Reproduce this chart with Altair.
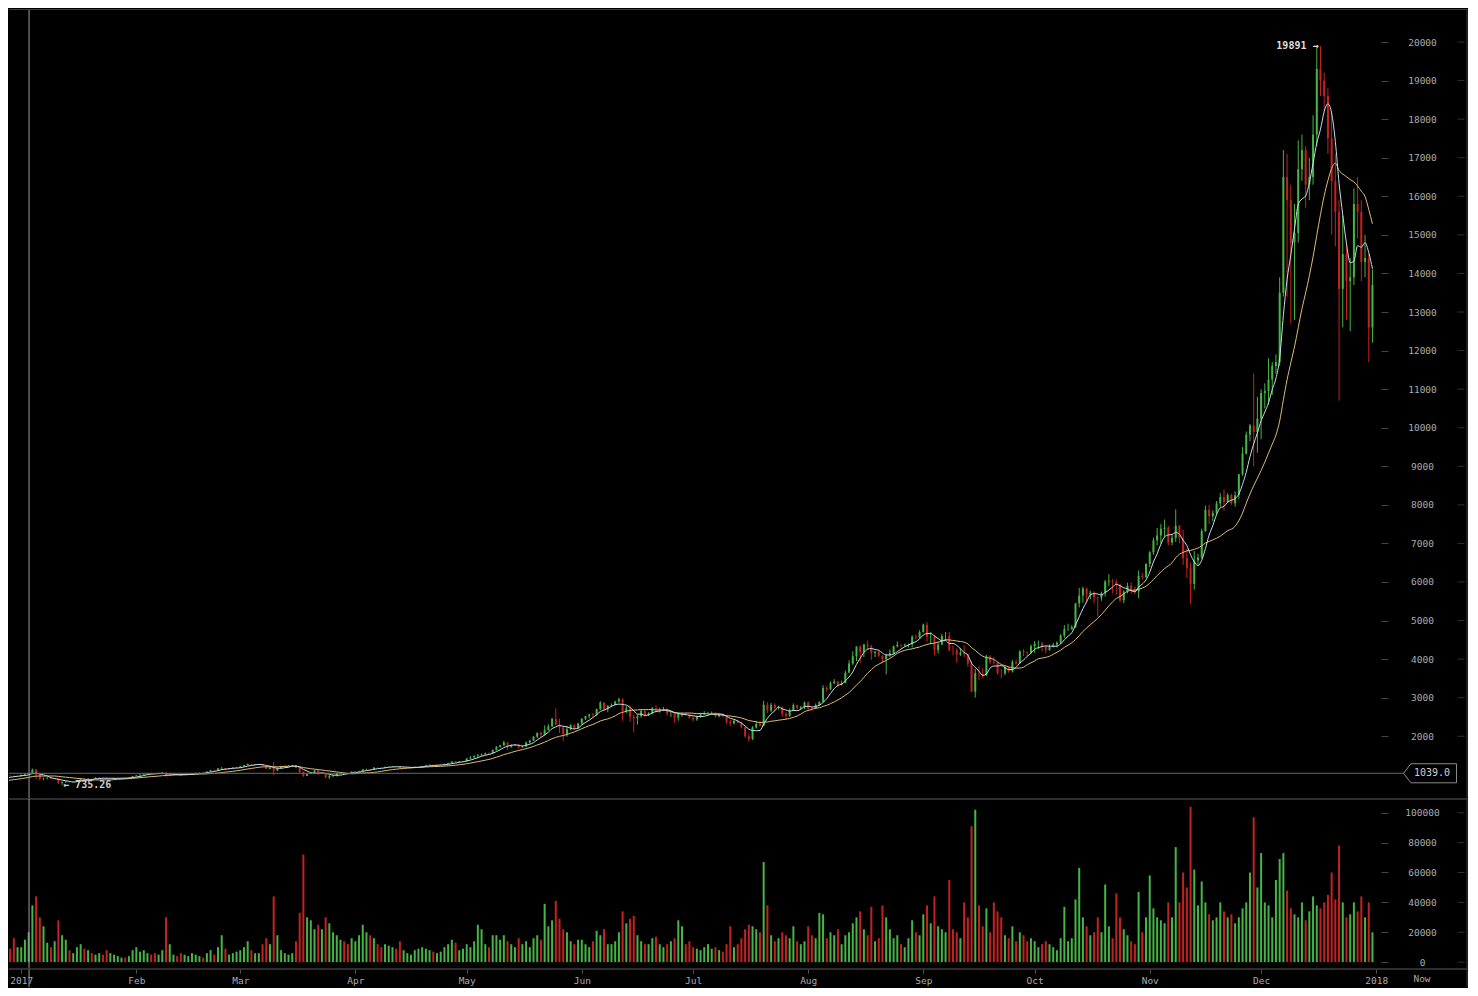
import altair as alt
import pandas as pd
import numpy as np

# ---------------- data (daily, Bitfinex BTC/USD, 2017) ----------------
# closes of Dec 14-27 2016, only used to warm up the moving averages
warmup_close = [780, 777, 785, 790, 790, 790, 800, 834, 864, 921, 890, 891, 907, 933]

# drawn candles start on Dec 28 2016 (day -4, Jan 1 2017 = day 0)
close = [
    975, 973, 961, 963,
    998, 1021, 1043, 1132, 1010, 895, 905, 910, 900, 905, 790, 808, 822, 818, 820, 830, 900, 865, 895, 893, 920, 922, 920, 893, 895, 915, 918, 920, 913, 920, 965,
    985, 1005, 1025, 1040, 1030, 1020, 1048, 1050, 980, 995, 1005, 1000, 995, 1010, 1010, 1032, 1045, 1052, 1050, 1085, 1120, 1118, 1165, 1175, 1150, 1170, 1185, 1190,
    1220, 1250, 1280, 1262, 1270, 1276, 1232, 1150, 1190, 1105, 1175, 1220, 1232, 1240, 1250, 1175, 1070, 970, 1020, 1045, 1115, 1035, 1040, 935, 965, 965, 1045, 1045, 1040, 1035, 1080,
    1086, 1100, 1143, 1143, 1133, 1190, 1187, 1184, 1205, 1210, 1223, 1218, 1180, 1185, 1187, 1187, 1209, 1209, 1228, 1249, 1259, 1251, 1251, 1257, 1283, 1309, 1346, 1331, 1347, 1348,
    1422, 1452, 1491, 1507, 1528, 1555, 1553, 1640, 1727, 1762, 1839, 1725, 1770, 1781, 1716, 1731, 1838, 1889, 1988, 2084, 2042, 2157, 2255, 2446, 2305, 2225, 2050, 2184, 2287, 2200, 2330,
    2452, 2520, 2565, 2550, 2700, 2870, 2700, 2793, 2811, 2900, 2958, 2650, 2717, 2506, 2464, 2519, 2655, 2548, 2589, 2721, 2689, 2706, 2710, 2590, 2590, 2479, 2589, 2589, 2561, 2480,
    2434, 2506, 2565, 2601, 2601, 2608, 2518, 2572, 2518, 2373, 2337, 2398, 2357, 2233, 1998, 1929, 2228, 2318, 2273, 2817, 2667, 2810, 2730, 2755, 2576, 2529, 2671, 2809, 2726, 2757, 2875,
    2718, 2710, 2804, 2895, 3252, 3213, 3378, 3419, 3342, 3381, 3650, 3884, 4073, 4325, 4181, 4376, 4331, 4160, 4193, 4087, 4001, 4100, 4151, 4334, 4371, 4352, 4382, 4382, 4579, 4565, 4703,
    4892, 4578, 4582, 4236, 4376, 4597, 4599, 4228, 4226, 4122, 4161, 4130, 3882, 3154, 3637, 3625, 3582, 4065, 3924, 3905, 3631, 3630, 3792, 3682, 3926, 3892, 4200, 4174, 4163, 4338,
    4403, 4409, 4317, 4229, 4328, 4370, 4426, 4610, 4772, 4781, 4826, 5447, 5647, 5831, 5678, 5725, 5605, 5590, 5708, 6011, 6031, 6008, 5930, 5526, 5750, 5904, 5780, 5753, 6153, 6130, 6468,
    6767, 7078, 7207, 7379, 7407, 7022, 7144, 7459, 7143, 6618, 6357, 5950, 6559, 6635, 7315, 7871, 7708, 7790, 8036, 8200, 8071, 8253, 8038, 8253, 8791, 9330, 9818, 10058, 9888, 10233,
    10900, 10950, 11250, 11600, 11700, 13500, 16500, 15900, 14800, 15050, 16700, 17200, 16300, 16500, 17600, 19300, 19000, 18600, 17500, 16400, 15600, 13600, 14500, 13800, 13900, 15800, 15600, 14300, 14400, 12600, 13700,
]
high = [
    982, 990, 975, 972,
    1002, 1032, 1048, 1160, 1150, 1020, 925, 940, 918, 915, 912, 830, 835, 836, 830, 836, 908, 912, 912, 900, 935, 936, 932, 926, 902, 920, 926, 926, 922, 926, 972,
    990, 1012, 1032, 1048, 1045, 1032, 1056, 1075, 1062, 1000, 1012, 1010, 1003, 1015, 1016, 1038, 1056, 1060, 1058, 1090, 1126, 1132, 1172, 1202, 1178, 1176, 1192, 1200,
    1225, 1260, 1292, 1285, 1276, 1285, 1280, 1240, 1200, 1330, 1186, 1230, 1240, 1252, 1260, 1256, 1180, 1085, 1035, 1056, 1122, 1125, 1062, 1045, 1005, 1010, 1052, 1070, 1060, 1056, 1086,
    1092, 1106, 1150, 1160, 1145, 1195, 1194, 1195, 1210, 1215, 1228, 1226, 1220, 1190, 1195, 1193, 1212, 1215, 1232, 1256, 1266, 1262, 1258, 1262, 1288, 1312, 1350, 1350, 1352, 1354,
    1430, 1480, 1500, 1540, 1550, 1575, 1580, 1660, 1745, 1780, 1880, 1840, 1790, 1800, 1790, 1760, 1860, 1900, 2000, 2100, 2120, 2280, 2310, 2480, 2720, 2450, 2280, 2270, 2310, 2310, 2350,
    2470, 2530, 2580, 2600, 2720, 2910, 2880, 2800, 2850, 2920, 3000, 2980, 2780, 2800, 2560, 2560, 2690, 2680, 2620, 2760, 2800, 2740, 2760, 2720, 2640, 2620, 2600, 2620, 2620, 2580,
    2520, 2530, 2610, 2650, 2630, 2640, 2620, 2580, 2590, 2530, 2420, 2430, 2430, 2380, 2240, 2060, 2260, 2400, 2400, 2920, 2880, 2860, 2850, 2790, 2770, 2620, 2720, 2850, 2820, 2780, 2900,
    2900, 2760, 2850, 2900, 3320, 3300, 3420, 3480, 3420, 3440, 3700, 3970, 4200, 4330, 4360, 4400, 4480, 4370, 4200, 4210, 4100, 4140, 4250, 4350, 4460, 4380, 4400, 4400, 4620, 4640, 4750,
    4920, 4960, 4700, 4620, 4450, 4650, 4700, 4700, 4340, 4280, 4290, 4360, 4140, 3950, 3750, 3820, 3760, 4110, 4100, 4050, 3920, 3750, 3820, 3800, 3980, 3980, 4230, 4260, 4200, 4380,
    4470, 4480, 4450, 4350, 4380, 4420, 4460, 4650, 4880, 4920, 4880, 5450, 5850, 5880, 5850, 5780, 5760, 5620, 5750, 6050, 6200, 6080, 6070, 5950, 5780, 5980, 5990, 5880, 6300, 6230, 6480,
    6800, 7150, 7400, 7500, 7620, 7450, 7220, 7880, 7480, 7350, 6870, 6500, 6800, 6730, 7380, 7980, 8000, 7860, 8100, 8300, 8400, 8300, 8290, 8350, 8800, 9500, 9900, 10100, 11400, 10800,
    11000, 11150, 11800, 11700, 11900, 13900, 17200, 17100, 16300, 15800, 17450, 17600, 17300, 17000, 18100, 19850, 19891, 19200, 18800, 18200, 17100, 15900, 15500, 14800, 14400, 16200, 16500, 15900, 15000, 14500, 14100,
]
low = [
    930, 962, 925, 948,
    958, 994, 1012, 1035, 880, 850, 860, 880, 884, 880, 760, 735.26, 795, 800, 805, 815, 826, 845, 858, 880, 890, 910, 905, 885, 885, 890, 908, 910, 905, 910, 918,
    960, 980, 1000, 1020, 1014, 1010, 1016, 1040, 948, 965, 990, 990, 980, 990, 1000, 1008, 1030, 1042, 1040, 1045, 1080, 1100, 1115, 1120, 1110, 1140, 1165, 1170,
    1185, 1215, 1245, 1240, 1250, 1260, 1210, 1140, 1145, 985, 1100, 1170, 1220, 1225, 1235, 1165, 1050, 945, 965, 1015, 1040, 1000, 1020, 905, 890, 935, 960, 1015, 1020, 1020, 1030,
    1070, 1080, 1098, 1125, 1112, 1132, 1175, 1172, 1180, 1200, 1205, 1210, 1165, 1172, 1180, 1178, 1183, 1200, 1205, 1226, 1240, 1235, 1240, 1242, 1250, 1280, 1300, 1320, 1330, 1335,
    1340, 1400, 1440, 1440, 1490, 1515, 1535, 1550, 1630, 1700, 1750, 1650, 1700, 1750, 1680, 1700, 1720, 1810, 1880, 1950, 1980, 2020, 2150, 2240, 2280, 2080, 1870, 1990, 2150, 2180, 2200,
    2300, 2420, 2460, 2500, 2530, 2680, 2660, 2620, 2760, 2800, 2870, 2400, 2600, 2370, 2100, 2300, 2480, 2500, 2520, 2570, 2620, 2610, 2650, 2530, 2500, 2350, 2400, 2500, 2530, 2450,
    2380, 2400, 2480, 2550, 2560, 2560, 2480, 2490, 2500, 2320, 2260, 2300, 2320, 2200, 1960, 1850, 1900, 2200, 2250, 2260, 2600, 2620, 2660, 2690, 2500, 2450, 2500, 2650, 2700, 2690, 2700,
    2650, 2650, 2700, 2780, 2880, 3150, 3200, 3350, 3260, 3320, 3370, 3630, 3850, 3950, 3900, 4050, 4250, 3980, 4050, 4050, 3900, 3600, 4050, 4120, 4300, 4300, 4330, 4300, 4300, 4500, 4540,
    4690, 4450, 4380, 4100, 4150, 4370, 4480, 4200, 4100, 3900, 4080, 4050, 3800, 3140, 3000, 3450, 3500, 3560, 3870, 3860, 3600, 3500, 3580, 3650, 3650, 3850, 3880, 4080, 4080, 4140,
    4160, 4260, 4200, 4150, 4220, 4300, 4300, 4390, 4550, 4730, 4760, 4810, 5340, 5460, 5470, 5550, 5450, 5100, 5510, 5620, 5900, 5710, 5670, 5470, 5450, 5700, 5690, 5680, 5580, 6080, 6100,
    6380, 6700, 6950, 7000, 7150, 6950, 6950, 7040, 7000, 6440, 6100, 5420, 5800, 6450, 6600, 7300, 7500, 7570, 7750, 7950, 7850, 8050, 8000, 7950, 8150, 8750, 9300, 9650, 9000, 9350,
    9700, 10500, 10600, 10850, 11400, 11600, 13400, 13400, 12700, 12800, 14800, 16400, 15700, 15900, 16300, 17300, 18600, 18200, 17100, 15000, 14700, 10700, 12600, 12800, 12500, 13700, 14900, 13800, 13900, 11700, 12200,
]
# volume in thousands
volume_k = [
    14, 9, 16, 10,
    10, 15, 20, 38, 44, 30, 24, 13, 10, 14, 28, 18, 15, 8, 6, 10, 12, 9, 8, 6, 5, 6, 5, 8, 6, 5, 4, 3, 3, 4, 8,
    10, 7, 8, 6, 5, 6, 5, 8, 30, 12, 5, 4, 6, 5, 4, 6, 5, 4, 3, 6, 8, 5, 10, 18, 9, 5, 6, 7,
    8, 10, 14, 8, 6, 6, 12, 16, 12, 44, 18, 8, 6, 5, 6, 14, 33, 72, 30, 28, 22, 25, 22, 30, 26, 20, 18, 15, 14, 12, 16,
    14, 18, 25, 20, 18, 16, 12, 10, 12, 11, 10, 9, 14, 8, 6, 5, 8, 9, 10, 9, 8, 7, 6, 7, 10, 12, 15, 13, 8, 9,
    12, 10, 14, 25, 22, 12, 10, 18, 18, 15, 18, 14, 12, 10, 16, 12, 14, 10, 16, 18, 15, 39, 24, 28, 41, 29, 22, 20, 14, 12, 15,
    15, 12, 10, 14, 21, 18, 22, 12, 12, 14, 20, 34, 26, 29, 31, 18, 14, 12, 12, 16, 17, 12, 10, 12, 14, 16, 28, 24, 12, 14,
    10, 9, 8, 10, 12, 9, 10, 8, 7, 12, 24, 10, 12, 16, 22, 25, 24, 22, 20, 67, 38, 18, 14, 16, 20, 18, 16, 24, 14, 12, 14,
    24, 18, 16, 33, 32, 16, 20, 18, 22, 12, 18, 20, 26, 30, 34, 22, 18, 37, 14, 16, 38, 30, 22, 16, 18, 12, 10, 16, 28, 20, 18,
    32, 38, 26, 44, 24, 22, 20, 55, 22, 20, 16, 40, 30, 91, 102, 38, 24, 36, 20, 40, 34, 30, 18, 16, 24, 14, 20, 18, 14, 16,
    14, 10, 12, 14, 12, 10, 8, 16, 37, 14, 16, 42, 63, 30, 24, 18, 20, 30, 20, 52, 24, 16, 46, 30, 22, 18, 14, 12, 47, 20, 30,
    58, 36, 30, 28, 26, 40, 30, 77, 40, 60, 50, 104, 62, 38, 54, 40, 32, 28, 30, 40, 34, 30, 32, 26, 30, 36, 40, 60, 97, 50,
    73, 40, 38, 30, 55, 69, 73, 48, 36, 32, 30, 40, 28, 34, 44, 38, 36, 40, 45, 60, 42, 78, 40, 30, 32, 40, 34, 44, 30, 40, 20,
]

MONTH_DAYS = [0, 31, 59, 90, 120, 151, 181, 212, 243, 273, 304, 334, 365]
MONTH_LABELS = ["2017", "Feb", "Mar", "Apr", "May", "Jun", "Jul", "Aug", "Sep", "Oct", "Nov", "Dec", "2018"]
PRICE_TICKS = list(range(2000, 20001, 1000))
VOL_TICKS = [0, 20000, 40000, 60000, 80000, 100000]
CROSS_DAY = 2.1
CROSS_PRICE = 1039.0
FIRST_DAY = -4

# ---------------- style ----------------
MONO = "DejaVu Sans Mono"
GREEN = "#45b545"
RED = "#c42222"
MA_FAST = "#c6dcee"
MA_SLOW = "#e0bb78"
FRAME = "#3c3c3c"
LABEL = "#ababab"
W = 1372
H_PRICE = 790
H_VOL = 170
AXW = 86

# ---------------- table ----------------
n = len(close)
assert len(high) == n and len(low) == n and len(volume_k) == n, (n, len(high), len(low), len(volume_k))
allc = pd.Series(warmup_close + close, dtype=float)
k = len(warmup_close)
df = pd.DataFrame({
    "day": np.arange(FIRST_DAY, FIRST_DAY + n),
    "open": [warmup_close[-1]] + close[:-1],
    "close": close,
    "high": high,
    "low": low,
    "vol": [v * 1000 for v in volume_k],
    "ma_fast": allc.rolling(5, min_periods=1).mean().to_numpy()[k:],
    "ma_slow": allc.rolling(15, min_periods=1).mean().to_numpy()[k:],
})
df["dir"] = np.where(df["close"] >= df["open"], "up", "down")

hi = df.loc[df["high"].idxmax()]
lo = df.loc[df["low"].idxmin()]
ann_hi = pd.DataFrame({"day": [hi["day"]], "p": [hi["high"]], "t": [f"{hi['high']:g} \u2192"]})
ann_lo = pd.DataFrame({"day": [lo["day"]], "p": [lo["low"]], "t": [f"\u2190 {lo['low']:g}"]})
one = pd.DataFrame({"a": [0]})
cross_x = pd.DataFrame({"day": [CROSS_DAY]})
cross_y = pd.DataFrame({"p": [CROSS_PRICE]})

xscale = alt.Scale(domain=[-3.3, 366.3], nice=False, zero=False)
pscale = alt.Scale(domain=[372, 20857], nice=False, zero=False)
vscale = alt.Scale(domain=[-4600, 109200], nice=False, zero=False)
color = alt.Color("dir:N", scale=alt.Scale(domain=["up", "down"], range=[GREEN, RED]), legend=None)

price_axis = alt.Axis(orient="right", values=PRICE_TICKS, format="d", tickSize=7, tickColor="#444",
                      labelColor=LABEL, labelFont=MONO, labelFontSize=9.5, labelAlign="center",
                      labelPadding=34, domain=False, grid=False, labelFlush=False, labelOverlap=False)
vol_axis = alt.Axis(orient="right", values=VOL_TICKS, format="d", tickSize=7, tickColor="#444",
                    labelColor=LABEL, labelFont=MONO, labelFontSize=9.5, labelAlign="center",
                    labelPadding=34, domain=False, grid=False, labelFlush=False, labelOverlap=False)
label_expr = "''"
for d, lab in reversed(list(zip(MONTH_DAYS, MONTH_LABELS))):
    label_expr = f"datum.value == {d} ? '{lab}' : ({label_expr})"
x_axis = alt.Axis(orient="bottom", values=MONTH_DAYS, labelExpr=label_expr, tickSize=4, tickColor="#555",
                  labelColor=LABEL, labelFont=MONO, labelFontSize=9.5, labelPadding=2, domain=False,
                  grid=False, labelFlush=False, labelOverlap=False)


def PY(field, **kw):
    return alt.Y(field, scale=pscale, axis=price_axis, title=None, **kw)


def VY(field):
    return alt.Y(field, scale=vscale, axis=vol_axis, title=None)


# ---------------- price pane ----------------
X = alt.X("day:Q", scale=xscale, axis=None)

wick = alt.Chart(df).mark_rule(strokeWidth=1, clip=True).encode(
    x=X, y=PY("low:Q"), y2="high:Q", color=color)
body = alt.Chart(df).mark_rule(strokeWidth=2, clip=True).encode(
    x=X, y=PY("open:Q"), y2="close:Q", color=color)
ma_s = alt.Chart(df).mark_line(strokeWidth=1, color=MA_SLOW, clip=True, interpolate="monotone").encode(x=X, y=PY("ma_slow:Q"))
ma_f = alt.Chart(df).mark_line(strokeWidth=1, color=MA_FAST, clip=True, interpolate="monotone").encode(x=X, y=PY("ma_fast:Q"))
vline_p = alt.Chart(cross_x).mark_rule(color="#9a9a9a", strokeWidth=1).encode(x=X, y=alt.value(0), y2=alt.value(H_PRICE))
hline = alt.Chart(cross_y).mark_rule(color="#6a6a6a", strokeWidth=1, clip=False).encode(
    y=PY("p:Q"), x=alt.value(0), x2=alt.value(W + 24))
box = alt.Chart(cross_y).mark_point(shape="M-1,0L-0.72,-0.36L1,-0.36L1,0.36L-0.72,0.36Z", size=2809,
                                    filled=True, fill="#000", stroke="#8a8a8a", strokeWidth=1, opacity=1,
                                    clip=False).encode(y=PY("p:Q"), x=alt.value(W + 49))
box_t = alt.Chart(cross_y).mark_text(font=MONO, fontSize=10, color="#cfcfcf", align="center", baseline="middle",
                                     clip=False).encode(y=PY("p:Q"), x=alt.value(W + 51), text=alt.Text("p:Q", format=".1f"))
t_hi = alt.Chart(ann_hi).mark_text(font=MONO, fontSize=10, fontWeight="bold", color="#dddddd", align="right",
                                   baseline="middle", dx=-2).encode(x=X, y=PY("p:Q"), text="t:N")
t_lo = alt.Chart(ann_lo).mark_text(font=MONO, fontSize=10, fontWeight="bold", color="#cccccc", align="left",
                                   baseline="middle", dx=1, dy=0).encode(x=X, y=PY("p:Q"), text="t:N")
rdash_p = alt.Chart(pd.DataFrame({"t": PRICE_TICKS})).mark_tick(color="#444", orient="horizontal", size=7,
                                                                thickness=1, clip=False).encode(
    y=PY("t:Q"), x=alt.value(W + 80))
top_line = alt.Chart(one).mark_rule(color=FRAME, clip=False).encode(x=alt.value(0), x2=alt.value(W + AXW), y=alt.value(0.5))
sep_line = alt.Chart(one).mark_rule(color=FRAME, strokeWidth=1.5, clip=False).encode(x=alt.value(0), x2=alt.value(W + AXW), y=alt.value(H_PRICE))
rb_p = alt.Chart(one).mark_rule(color=FRAME, clip=False).encode(x=alt.value(W + AXW), y=alt.value(0), y2=alt.value(H_PRICE))

price = alt.layer(wick, body, ma_s, ma_f, vline_p, hline, box, box_t, t_hi, t_lo, rdash_p,
                  top_line, sep_line, rb_p).properties(width=W, height=H_PRICE)

# ---------------- volume pane ----------------
XV = alt.X("day:Q", scale=xscale, axis=x_axis, title=None)
vbars = alt.Chart(df).mark_rule(strokeWidth=2, clip=True).encode(
    x=XV, y=VY("vol:Q"), y2=alt.datum(0), color=color)
vline_v = alt.Chart(cross_x).mark_rule(color="#9a9a9a", strokeWidth=1, clip=False).encode(
    x=XV, y=alt.value(0), y2=alt.value(H_VOL + 18))
rdash_v = alt.Chart(pd.DataFrame({"t": VOL_TICKS})).mark_tick(color="#444", orient="horizontal", size=7,
                                                              thickness=1, clip=False).encode(
    y=VY("t:Q"), x=alt.value(W + 80))
bot_line = alt.Chart(one).mark_rule(color=FRAME, strokeWidth=1.5, clip=False).encode(
    x=alt.value(0), x2=alt.value(W + AXW), y=alt.value(H_VOL))
rb_v = alt.Chart(one).mark_rule(color=FRAME, clip=False).encode(x=alt.value(W + AXW), y=alt.value(0), y2=alt.value(H_VOL + 18))
now_t = alt.Chart(one).mark_text(font=MONO, fontSize=9.5, color=LABEL, align="center", baseline="middle",
                                 clip=False).encode(x=alt.value(W + 41), y=alt.value(H_VOL + 10), text=alt.value("Now"))

vol = alt.layer(vbars, vline_v, rdash_v, bot_line, rb_v, now_t).properties(width=W, height=H_VOL)

chart = alt.vconcat(price, vol, spacing=0, bounds="flush", padding=0, background="#000000").configure_view(strokeWidth=0)

chart.save("out.html", embed_options={"renderer": "svg", "actions": False})
